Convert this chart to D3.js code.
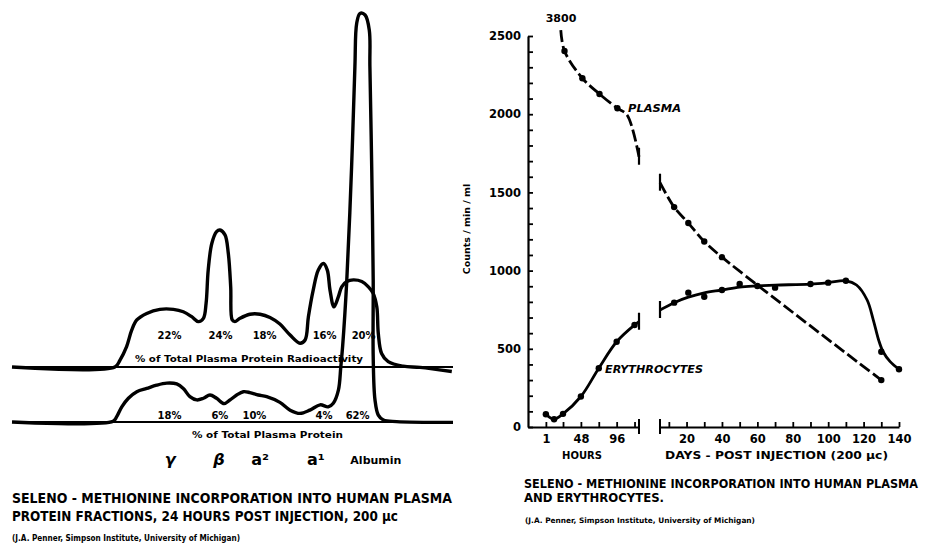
<!DOCTYPE html>
<html><head><meta charset="utf-8">
<script src="https://cdn.jsdelivr.net/npm/d3@7"></script>
<style>
body{margin:0;background:#fff}
svg text{font-family:"DejaVu Sans",sans-serif;font-weight:bold;fill:#000}
</style>
</head><body>
<svg id="c" width="926" height="544"></svg>
<script>
// ---------- LEFT: densitometer traces [position (mm), height (rel. units)] ----------
const radioTrace = [[0,0],[34.3,0],[36,1.7],[38.2,5],[39.9,9],[41.6,11.5],[44.9,13.1],[49.3,14.1],[53.8,14.1],[57.1,13.5],[59.9,12.3],[62.1,11.1],[63.8,11.9],[64.7,15.6],[65.4,23.7],[66.6,30.2],[68.2,33.1],[69.3,33.5],[71,32.3],[72.1,27.8],[72.9,19.6],[73.4,11.5],[74.3,11.1],[76,11.9],[79.3,12.9],[82.7,12.9],[86,12.1],[89.3,10.5],[92.7,7.8],[96,5.8],[97.7,6.6],[98.8,12.3],[100.4,18.8],[102.1,23.7],[103.8,25.3],[105.1,23.7],[106,18.8],[107.3,14.7],[108.8,17.2],[109.9,19.6],[111.6,20.9],[113.8,21.3],[116.6,20.9],[118.8,19.6],[120.4,18],[121.6,14.7],[122.1,8.2],[123.2,3.3],[125.4,1.3],[130.4,0.2],[136,-0.1],[146.6,-1.1]];
const proteinTrace = [[0,0],[33.7,0.2],[34.9,1.3],[36.6,3.7],[38.8,5.8],[41.6,7.4],[44.9,8.2],[48.2,9],[51.6,9.5],[54.9,9.3],[57.1,8.2],[59.3,6.2],[61.6,5.4],[63.8,5.8],[66,6.6],[68.2,5.8],[70.7,4.5],[72.7,5.4],[74.9,6.6],[77.1,7.4],[79.3,7.2],[82.1,6.6],[84.9,6.2],[89.3,4.8],[92.7,2.9],[96,2.1],[99.3,2.9],[102.7,4.2],[105.4,3.7],[107.1,4.6],[108.8,7.8],[109.6,13.5],[110.2,18.4],[111.6,34.7],[113.2,62.4],[114.3,86.9],[114.9,97.5],[116,99.9],[117.7,99.5],[119.1,95.8],[119.3,86.9],[119.9,62.4],[120.4,34.7],[120.4,16],[121,5.4],[122.1,1.7],[123.8,0.5],[128.2,0.1],[147,-0.1]];
const fractionLabels = ["γ","β","a²","a¹","Albumin"];
const fractionPos    = [52.7,69,82.7,101.3,121.3];
const radioPct       = ["22%","24%","18%","16%","20%"];
const radioPctPos    = [52.5,69.5,84.2,104.2,117.2];
const proteinPct     = ["18%","6%","10%","4%","62%"];
const proteinPctPos  = [52.5,69.3,80.8,104,115.2];

// ---------- RIGHT: counts / min / ml ----------
const yTicks = d3.range(0,2501,100);
const yLabels = [0,500,1000,1500,2000,2500];
const hourTicks = [1,24,48,72,96,120];
const hourLabels = [1,48,96];
const dayTicks = d3.range(10,141,10);
const dayLabels = [20,40,60,80,100,120,140];

const plasmaHoursPts   = [[26,2404],[50,2230],[73,2129],[97,2038]];
const plasmaHoursCurve = [[21,2538],[26,2404],[50,2230],[73,2129],[97,2038],[110,1995],[126,1728]];
const plasmaDaysPts    = [[13,1406],[21,1304],[30,1186],[40,1086],[130,300]];
const plasmaDaysCurve  = [[5,1562],[13,1406],[21,1304],[30,1186],[40,1086],[130,300]];
const eryHoursPts      = [[1,82],[12,50],[24,84],[48,195],[72,376],[96,545],[120,652]];
const eryHoursCurve    = [[1,82],[12,50],[24,84],[48,195],[72,376],[96,545],[120,652],[126,673]];
const eryDaysPts       = [[13,795],[21,859],[30,833],[40,876],[50,914],[60,902],[70,891],[90,914],[100,923],[110,935],[130,481],[140,369]];
const eryDaysCurve     = [[5,748],[13,795],[21,830],[30,858],[40,876],[50,895],[60,902],[70,907],[90,914],[100,923],[110,935],[116,908],[122,812],[125.5,684],[128.5,556],[131,481],[135,418],[140,369]];
const plasmaStartValue = "3800";

// =====================================================================
const svg = d3.select("#c");
const curve = d3.curveCatmullRom.alpha(0.5);

// ----- left chart -----
const xT = d3.scaleLinear().domain([0,147]).range([12,453]);
const yLo = d3.scaleLinear().domain([0,100]).range([422,13]);
const yUp = d3.scaleLinear().domain([0,100]).range([367,-42]);
const L = svg.append("g");
L.append("line").attr("x1",xT(0)).attr("x2",xT(147)).attr("y1",yUp(0)).attr("y2",yUp(0)).attr("stroke","#000").attr("stroke-width",2);
L.append("line").attr("x1",xT(0)).attr("x2",xT(147)).attr("y1",yLo(0)).attr("y2",yLo(0)).attr("stroke","#000").attr("stroke-width",2);
L.append("path").datum(radioTrace).attr("fill","none").attr("stroke","#000").attr("stroke-width",3.4).attr("stroke-linejoin","round")
  .attr("d",d3.line().x(d=>xT(d[0])).y(d=>yUp(d[1])).curve(curve));
L.append("path").datum(proteinTrace).attr("fill","none").attr("stroke","#000").attr("stroke-width",3.4).attr("stroke-linejoin","round")
  .attr("d",d3.line().x(d=>xT(d[0])).y(d=>yLo(d[1])).curve(curve));
L.selectAll(".rp").data(radioPct).join("text").attr("x",(d,i)=>xT(radioPctPos[i])).attr("y",339)
  .attr("text-anchor","middle").attr("font-size",10).text(d=>d);
L.selectAll(".pp").data(proteinPct).join("text").attr("x",(d,i)=>xT(proteinPctPos[i])).attr("y",419)
  .attr("text-anchor","middle").attr("font-size",10).text(d=>d);
L.append("text").attr("x",249).attr("y",362).attr("text-anchor","middle").attr("font-size",9.5)
  .attr("textLength",228).attr("lengthAdjust","spacingAndGlyphs").text("% of Total Plasma Protein Radioactivity");
L.append("text").attr("x",267.5).attr("y",438).attr("text-anchor","middle").attr("font-size",9.5)
  .attr("textLength",151).attr("lengthAdjust","spacingAndGlyphs").text("% of Total Plasma Protein");
L.selectAll(".fl").data(fractionLabels).join("text").attr("x",(d,i)=>xT(fractionPos[i])).attr("y",(d,i)=>i===4?464:465)
  .attr("text-anchor","middle").attr("font-size",(d,i)=>i===4?11:16).attr("font-style",(d,i)=>i<2?"italic":"normal")
  .text(d=>d);
L.append("text").attr("x",12).attr("y",503).attr("font-size",13.5).attr("textLength",440).attr("lengthAdjust","spacingAndGlyphs")
  .text("SELENO - METHIONINE  INCORPORATION  INTO  HUMAN  PLASMA");
L.append("text").attr("x",12).attr("y",521).attr("font-size",13.5).attr("textLength",386).attr("lengthAdjust","spacingAndGlyphs")
  .text("PROTEIN  FRACTIONS,  24  HOURS  POST  INJECTION,  200 μc");
L.append("text").attr("x",12).attr("y",541).attr("font-size",9).attr("textLength",228).attr("lengthAdjust","spacingAndGlyphs")
  .text("(J.A. Penner, Simpson Institute, University of Michigan)");

// ----- right chart -----
const yR = d3.scaleLinear().domain([0,2500]).range([427,36]);
const xH = d3.scaleLinear().domain([-23,126]).range([528,639]);
const xD = d3.scaleLinear().domain([5,140]).range([660,899]);
const R = svg.append("g");

const yAxis = d3.axisLeft(yR).tickValues(yTicks).tickSize(-5).tickSizeOuter(0).tickPadding(7)
  .tickFormat(d=>yLabels.includes(d)?d:"");
const gy = R.append("g").attr("transform","translate(528,0)").call(yAxis);
gy.select(".domain").attr("stroke-width",2.2);
gy.selectAll(".tick line").attr("stroke-width",1.8);
gy.selectAll("text").attr("font-size",11.5).style("font-family","'DejaVu Sans',sans-serif").style("font-weight","bold");

const hAxis = d3.axisBottom(xH).tickValues(hourTicks).tickSize(-5).tickSizeOuter(0).tickPadding(8)
  .tickFormat(d=>hourLabels.includes(d)?d:"");
const gh = R.append("g").attr("transform","translate(0,427)").call(hAxis);
const dAxis = d3.axisBottom(xD).tickValues(dayTicks).tickSize(-5).tickSizeOuter(0).tickPadding(8)
  .tickFormat(d=>dayLabels.includes(d)?d:"");
const gd = R.append("g").attr("transform","translate(0,427)").call(dAxis);
[gh,gd].forEach(g=>{
  g.select(".domain").attr("stroke-width",2.2);
  g.selectAll(".tick line").attr("stroke-width",1.8);
  g.selectAll("text").attr("font-size",11.5).style("font-family","'DejaVu Sans',sans-serif").style("font-weight","bold");
});
[[xH(126)],[xD(5)]].forEach(([x])=>{
  R.append("line").attr("x1",x).attr("x2",x).attr("y1",419).attr("y2",434).attr("stroke","#000").attr("stroke-width",2);
});

const lineH = d3.line().x(d=>xH(d[0])).y(d=>yR(d[1])).curve(curve);
const lineD = d3.line().x(d=>xD(d[0])).y(d=>yR(d[1])).curve(curve);
const dash = "12,4";
R.append("path").datum(plasmaHoursCurve).attr("d",lineH).attr("fill","none").attr("stroke","#000").attr("stroke-width",2.8).attr("stroke-dasharray",dash);
R.append("path").datum(plasmaDaysCurve).attr("d",lineD).attr("fill","none").attr("stroke","#000").attr("stroke-width",2.8).attr("stroke-dasharray",dash);
R.append("path").datum(eryHoursCurve).attr("d",lineH).attr("fill","none").attr("stroke","#000").attr("stroke-width",2.8);
R.append("path").datum(eryDaysCurve).attr("d",lineD).attr("fill","none").attr("stroke","#000").attr("stroke-width",2.8);

const bars = [[xH,plasmaHoursCurve[plasmaHoursCurve.length-1]],[xD,plasmaDaysCurve[0]],[xH,eryHoursCurve[eryHoursCurve.length-1]],[xD,eryDaysCurve[0]]];
bars.forEach(([sx,p])=>{
  R.append("line").attr("x1",sx(p[0])).attr("x2",sx(p[0])).attr("y1",yR(p[1])-9).attr("y2",yR(p[1])+8).attr("stroke","#000").attr("stroke-width",2.2);
});

const dots = (pts,sx)=>R.append("g").selectAll("circle").data(pts).join("circle")
  .attr("cx",d=>sx(d[0])).attr("cy",d=>yR(d[1])).attr("r",3.2).attr("fill","#000");
dots(plasmaHoursPts,xH); dots(plasmaDaysPts,xD); dots(eryHoursPts,xH); dots(eryDaysPts,xD);

R.append("text").attr("x",561).attr("y",21.5).attr("text-anchor","middle").attr("font-size",11).text(plasmaStartValue);
R.append("text").attr("x",628).attr("y",112).attr("font-size",10).attr("font-style","italic").attr("textLength",53).attr("lengthAdjust","spacingAndGlyphs").text("PLASMA");
R.append("text").attr("x",605).attr("y",373).attr("font-size",10).attr("font-style","italic").attr("textLength",98).attr("lengthAdjust","spacingAndGlyphs").text("ERYTHROCYTES");
R.append("text").attr("transform","translate(470,229) rotate(-90)").attr("text-anchor","middle").attr("font-size",9.5).text("Counts / min / ml");
R.append("text").attr("x",582).attr("y",459).attr("text-anchor","middle").attr("font-size",10).text("HOURS");
R.append("text").attr("x",665).attr("y",459).attr("font-size",10).attr("textLength",223).attr("lengthAdjust","spacingAndGlyphs").text("DAYS - POST  INJECTION  (200 μc)");
R.append("text").attr("x",524).attr("y",488).attr("font-size",11.5).attr("textLength",394).attr("lengthAdjust","spacingAndGlyphs")
  .style("font-family","'DejaVu Sans Condensed','DejaVu Sans',sans-serif")
  .text("SELENO - METHIONINE INCORPORATION INTO HUMAN PLASMA");
R.append("text").attr("x",524).attr("y",502).attr("font-size",11.5).attr("textLength",140).attr("lengthAdjust","spacingAndGlyphs")
  .text("AND  ERYTHROCYTES.");
R.append("text").attr("x",525).attr("y",523).attr("font-size",7.5).attr("textLength",230).attr("lengthAdjust","spacingAndGlyphs")
  .text("(J.A. Penner, Simpson Institute, University of Michigan)");
</script>
</body></html>
